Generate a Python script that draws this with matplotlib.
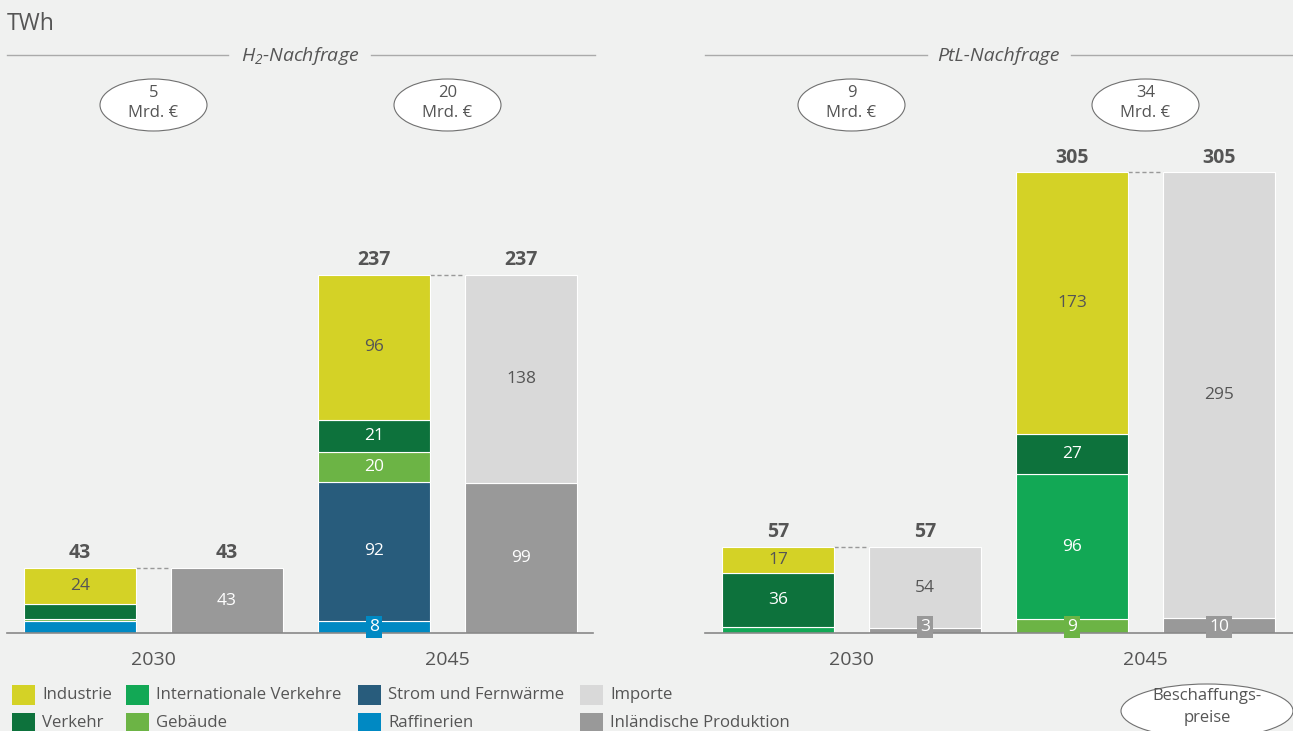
import numpy as np
import matplotlib
matplotlib.use("Agg")
import matplotlib.pyplot as plt
from matplotlib.patches import Ellipse, Rectangle

# ---------------------------------------------------------------- data (TWh)
sectors = ["Raffinerien", "Strom und Fernwärme", "Gebäude",
           "Internationale Verkehre", "Verkehr", "Industrie"]
h2_2030_dem = [8, 0, 1, 0, 10, 24]
h2_2045_dem = [8, 92, 20, 0, 21, 96]
ptl_2030_dem = [0, 0, 0, 4, 36, 17]
ptl_2045_dem = [0, 0, 9, 96, 27, 173]

supply = ["Inländische Produktion", "Importe"]
h2_2030_sup = [43, 0]
h2_2045_sup = [99, 138]
ptl_2030_sup = [3, 54]
ptl_2045_sup = [10, 295]

costs = ["5", "20", "9", "34"]          # Mrd. € per group
years = ["2030", "2045", "2030", "2045"]

# labels drawn as small boxes at the foot of a bar (too thin for inside labels)
boxed = {("h2_2045", "Raffinerien"), ("ptl_2030", "Inländische Produktion"),
         ("ptl_2045", "Gebäude"), ("ptl_2045", "Inländische Produktion")}

colors = {
    "Industrie": "#d4d226", "Internationale Verkehre": "#12a855",
    "Strom und Fernwärme": "#285c7c", "Importe": "#d9d9d9",
    "Verkehr": "#0d723c", "Gebäude": "#6cb445",
    "Raffinerien": "#0089c3", "Inländische Produktion": "#999999",
}
dark_text = {"Industrie", "Importe"}

plt.rcParams["font.family"] = ["Open Sans", "DejaVu Sans"]
plt.rcParams["mathtext.fontset"] = "custom"
plt.rcParams["mathtext.it"] = "Open Sans:italic"
plt.rcParams["mathtext.rm"] = "Open Sans:italic"

BG = "#f0f1f0"
TXT = "#555555"
K = 1.511          # px per TWh


def py(p):
    # pixel row (from top) -> data y
    return (633 - p) / K


fig = plt.figure(figsize=(12.93, 7.31), dpi=100, facecolor=BG)
ax = fig.add_axes([0, 0, 1, 1])
ax.set_facecolor(BG)
ax.set_xlim(0, 1293)
ax.set_ylim(py(731), py(0))
ax.axis("off")

W = 112
groups = [
    ("h2_2030", h2_2030_dem, h2_2030_sup, 24),
    ("h2_2045", h2_2045_dem, h2_2045_sup, 318),
    ("ptl_2030", ptl_2030_dem, ptl_2030_sup, 722),
    ("ptl_2045", ptl_2045_dem, ptl_2045_sup, 1016),
]


def stack(key, x, names, vals):
    bottom = 0
    for name, v in zip(names, vals):
        if v <= 0:
            continue
        ax.bar(x, v, W, bottom=bottom, align="edge", color=colors[name],
               edgecolor="white", linewidth=0.8, zorder=2)
        cx = x + W / 2
        if (key, name) in boxed:
            ax.text(cx, py(627), f"{v}", ha="center", va="center", fontsize=12.5,
                    color="white", zorder=4,
                    bbox=dict(boxstyle="square,pad=0.2", fc=colors[name], ec="none"))
        elif v >= 15:
            ax.text(cx, bottom + v / 2, f"{v}", ha="center", va="center",
                    fontsize=12.5, color=TXT if name in dark_text else "white", zorder=3)
        bottom += v
    return bottom


for i, (key, dem, sup, x0) in enumerate(groups):
    t1 = stack(key, x0, sectors, dem)
    t2 = stack(key, x0 + 147, supply, sup)
    for x, t in [(x0, t1), (x0 + 147, t2)]:
        ax.annotate(f"{t}", (x + W / 2, t), xytext=(0, 10.5), textcoords="offset points",
                    ha="center", va="center", fontsize=14, fontweight="bold", color=TXT)
    ax.plot([x0 + W, x0 + 147], [t1, t1], ls=(0, (3, 2)), color="#999999", lw=1, zorder=1)
    gc = x0 + (147 + W) / 2
    ax.text(gc, py(660), years[i], ha="center", va="center", fontsize=14, color=TXT)
    ax.add_patch(Ellipse((gc, py(105)), 107, 52 / K, fc="white", ec="#707070", lw=0.8))
    ax.text(gc, py(103), f"{costs[i]}\nMrd. €", ha="center", va="center",
            fontsize=12, color=TXT, linespacing=1.4)

# baselines
ax.plot([7, 593], [0, 0], color="#888888", lw=1.2, zorder=3)
ax.plot([705, 1293], [0, 0], color="#888888", lw=1.2, zorder=3)

# section headers
for xc, l1, l2, r1, r2, label in [(300, 7, 228, 371, 595, r"$H_2$-Nachfrage"),
                                  (998, 705, 927, 1071, 1293, "PtL-Nachfrage")]:
    ax.plot([l1, l2], [py(55), py(55)], color="#aaaaaa", lw=1)
    ax.plot([r1, r2], [py(55), py(55)], color="#aaaaaa", lw=1)
    ax.text(xc, py(56), label, ha="center", va="center", fontsize=14,
            style="italic", color=TXT)

ax.text(7, py(24), "TWh", ha="left", va="center", fontsize=16.5, color=TXT)

# legend (drawn by hand, two rows)
legend_rows = [["Industrie", "Internationale Verkehre", "Strom und Fernwärme", "Importe"],
               ["Verkehr", "Gebäude", "Raffinerien", "Inländische Produktion"]]
col_x = [12, 126, 358, 580]
for r, row in enumerate(legend_rows):
    yc = 695 + 28 * r
    for name, x in zip(row, col_x):
        ax.add_patch(Rectangle((x, py(yc + 10)), 23, 20 / K, fc=colors[name], ec="none"))
        ax.text(x + 30, py(yc), name, ha="left", va="center", fontsize=12.1, color=TXT)

ax.add_patch(Ellipse((1207, py(711)), 172, 54 / K, fc="white", ec="#707070", lw=0.8,
                     clip_on=False))
ax.text(1207, py(707), "Beschaffungs-\npreise", ha="center", va="center",
        fontsize=12, color=TXT, linespacing=1.45)

fig.savefig("out.png", dpi=100, facecolor=BG)
